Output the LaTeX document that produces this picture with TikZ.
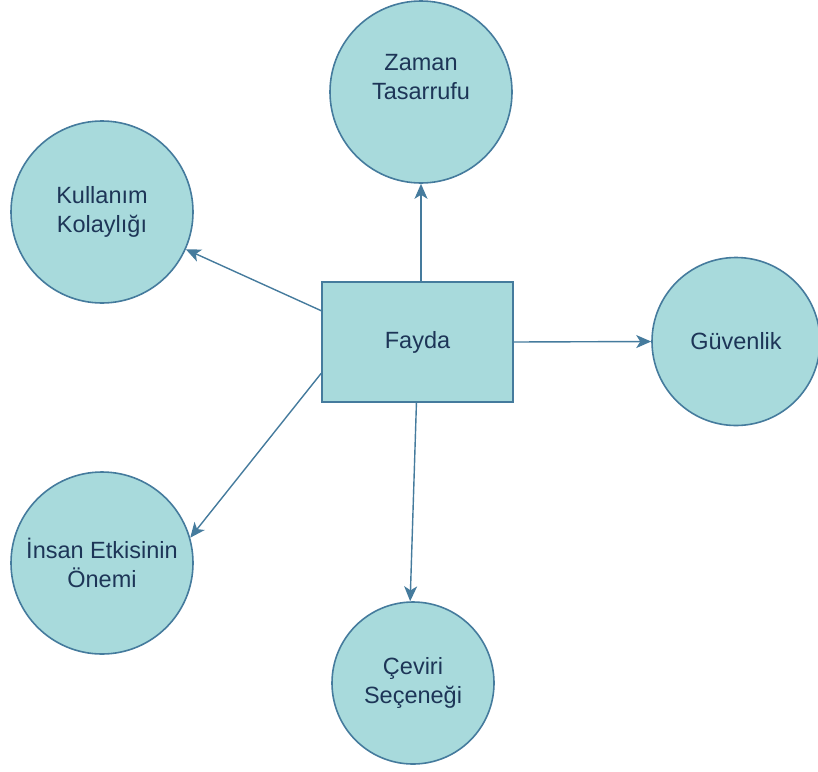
\documentclass[tikz,border=0pt]{standalone}
\usepackage{fontspec}
\setmainfont{Liberation Sans}
\usetikzlibrary{arrows.meta}

\definecolor{bubblefill}{HTML}{A8DADC}
\definecolor{bubbleline}{HTML}{457B9D}
\definecolor{bubbletext}{HTML}{1D3557}

\begin{document}
\begin{tikzpicture}[x=1pt,y=-1pt,
    bubble/.style={circle,draw=bubbleline,fill=bubblefill,line width=1.6pt,inner sep=0pt},
    box/.style={rectangle,draw=bubbleline,fill=bubblefill,line width=1.6pt,minimum width=191pt,minimum height=120pt},
    txt/.style={text=bubbletext,align=center,font=\fontsize{23.5}{29}\selectfont},
    link/.style={-{Stealth[length=15pt,width=13pt,inset=4pt]},draw=bubbleline,line width=1.4pt}]
        \useasboundingbox (0,0) rectangle (818,771);
        % centre
        \node[box,txt] (fayda) at (417.5,342) {Fayda};
        % bubbles
        \node[bubble,minimum size=182pt] (zaman) at (421,92) {};
        \node[txt] (zamantxt) at (421,77) {Zaman\\Tasarrufu};
        \node[bubble,txt,minimum size=182pt] (kullanim) at (102,212) {Kullanım\\Kolaylığı};
        \node[bubble,txt,minimum size=168pt] (guvenlik) at (736,341.5) {Güvenlik};
        \node[bubble,txt,minimum size=182pt] (insan) at (102,563) {İnsan Etkisinin\\Önemi};
        \node[bubble,txt,minimum size=162pt] (ceviri) at (413,683) {Çeviri\\Seçeneği};
        % arrows
        \draw[link](fayda.north-|zaman.south)--(zaman.south);
        \draw[link](fayda.162)--(kullanim.336);
        \draw[link](fayda.east)--(guvenlik.west);
        \draw[link](fayda.198)--(insan.16);
        \draw[link](fayda.269)--(ceviri.92);
\end{tikzpicture}
\end{document}
